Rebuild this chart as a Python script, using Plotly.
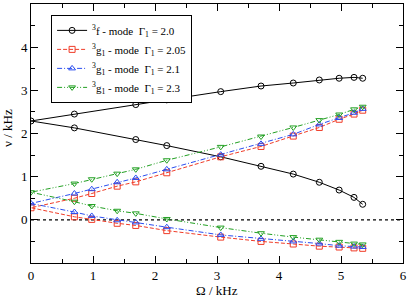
import plotly.graph_objects as go

# ---- data (kHz) ----
# f-mode, Gamma1 = 2.0
f_x_up = [0.0, 0.70, 1.69, 2.19, 3.06, 3.71, 4.23, 4.65, 4.97, 5.21, 5.35]
f_y_up = [2.29, 2.45, 2.67, 2.78, 2.97, 3.10, 3.17, 3.24, 3.28, 3.30, 3.28]
f_x_lo = [0.0, 0.70, 1.69, 2.19, 3.06, 3.71, 4.23, 4.65, 4.97, 5.21, 5.35]
f_y_lo = [2.29, 2.13, 1.86, 1.72, 1.46, 1.24, 1.06, 0.87, 0.69, 0.52, 0.36]

g_x = [0.0, 0.70, 0.98, 1.39, 1.69, 2.19, 3.06, 3.71, 4.23, 4.65, 4.97, 5.21, 5.35]
# g1-mode, Gamma1 = 2.05
g205_up = [0.28, 0.50, 0.61, 0.78, 0.88, 1.09, 1.46, 1.70, 1.94, 2.14, 2.33, 2.45, 2.54]
g205_lo = [0.28, 0.07, 0.01, -0.08, -0.13, -0.25, -0.40, -0.50, -0.56, -0.61, -0.63, -0.65, -0.66]
# g1-mode, Gamma1 = 2.1
g21_up = [0.38, 0.61, 0.71, 0.87, 0.97, 1.17, 1.51, 1.76, 1.98, 2.21, 2.36, 2.48, 2.57]
g21_lo = [0.38, 0.18, 0.09, -0.01, -0.06, -0.17, -0.35, -0.44, -0.50, -0.55, -0.60, -0.62, -0.63]
# g1-mode, Gamma1 = 2.3
g23_up = [0.64, 0.84, 0.94, 1.07, 1.17, 1.38, 1.69, 1.93, 2.14, 2.31, 2.44, 2.56, 2.62]
g23_lo = [0.64, 0.42, 0.32, 0.21, 0.15, 0.02, -0.18, -0.31, -0.40, -0.46, -0.51, -0.55, -0.57]

names = [
    "<sup>3</sup>f - mode  Γ<sub>1</sub> = 2.0",
    "<sup>3</sup>g<sub>1</sub> - mode  Γ<sub>1</sub> = 2.05",
    "<sup>3</sup>g<sub>1</sub> - mode  Γ<sub>1</sub> = 2.1",
    "<sup>3</sup>g<sub>1</sub> - mode  Γ<sub>1</sub> = 2.3",
]
x_title = "Ω / kHz"
y_title = "ν / kHz"
zero_level = 0.0

def path(xs_lo, ys_lo, xs_up, ys_up):
    return list(xs_lo[::-1]) + list(xs_up[1:]), list(ys_lo[::-1]) + list(ys_up[1:])

series = [
    (f_x_lo, f_y_lo, f_x_up, f_y_up, "black", "solid", "circle-open"),
    (g_x, g205_lo, g_x, g205_up, "#f03c28", "4px,2px", "square-open"),
    (g_x, g21_lo, g_x, g21_up, "#2b4ef0", "5px,2px,1px,2px", "triangle-up-open"),
    (g_x, g23_lo, g_x, g23_up, "#22a022", "5px,2px,1px,2px,1px,2px", "triangle-down-open"),
]

fig = go.Figure()
for (xl, yl, xu, yu, col, dash, sym), nm in zip(series, names):
    xs, ys = path(xl, yl, xu, yu)
    fig.add_trace(go.Scatter(
        x=xs, y=ys, mode="lines+markers", name=nm,
        line=dict(color=col, width=1, dash=dash),
        marker=dict(symbol=sym, size=6, color=col, line=dict(width=1, color=col)),
    ))

fig.add_shape(type="line", xref="paper", x0=0, x1=1, yref="y", y0=zero_level, y1=zero_level,
              line=dict(color="black", width=1.2, dash="dot"), layer="below")

font = dict(family="Liberation Serif", color="black")
axis_common = dict(
    showgrid=False, zeroline=False, showline=True, linecolor="black", linewidth=1,
    mirror="allticks", ticks="inside", ticklen=7, tickwidth=1, tickcolor="black",
    minor=dict(ticks="inside", ticklen=4, tickwidth=1, tickcolor="black", dtick=0.5),
    tickfont=dict(size=13, **font), automargin=False,
)
fig.update_xaxes(range=[0, 6], tickvals=[0, 1, 2, 3, 4, 5, 6], **axis_common)
fig.update_yaxes(range=[-1, 5], tickvals=[0, 1, 2, 3, 4], **axis_common)

fig.add_annotation(text=x_title, xref="paper", yref="paper", x=0.5, y=-0.105,
                   xanchor="center", yanchor="middle", showarrow=False,
                   font=dict(size=13, **font))
fig.add_annotation(text=y_title, xref="paper", yref="paper", x=-0.063, y=0.52,
                   xanchor="center", yanchor="middle", showarrow=False, textangle=-90,
                   font=dict(size=13, **font))

fig.update_layout(
    width=407, height=299,
    margin=dict(l=31, r=4, t=4, b=36, autoexpand=False),
    plot_bgcolor="white", paper_bgcolor="white",
    font=dict(size=12, **font),
    showlegend=True,
    legend=dict(x=0.054, y=0.958, xanchor="left", yanchor="top",
                bgcolor="white", bordercolor="black", borderwidth=1,
                font=dict(size=11, **font), tracegroupgap=0, itemwidth=30),
)

fig.write_html("out.html",
               config={"displayModeBar": False},
               post_script="document.body.style.margin='0';document.body.style.overflow='hidden';")
